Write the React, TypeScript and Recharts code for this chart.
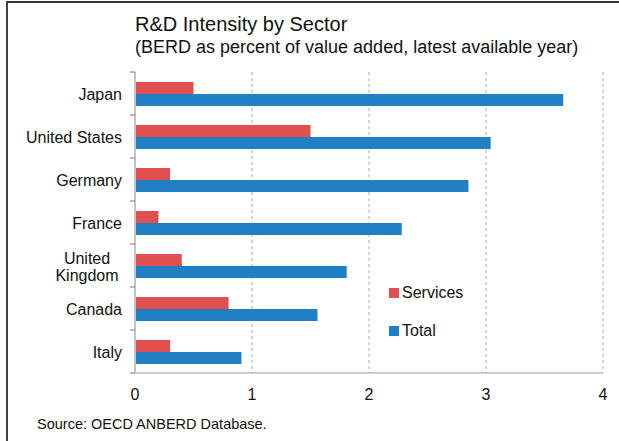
import React from 'react';
import { BarChart, Bar, XAxis, YAxis, CartesianGrid, Legend } from 'recharts';

const categories = ['Japan', 'United States', 'Germany', 'France', 'United Kingdom', 'Canada', 'Italy'];
const servicesValues = [0.5, 1.5, 0.3, 0.2, 0.4, 0.8, 0.3];
const totalValues = [3.66, 3.04, 2.85, 2.28, 1.81, 1.56, 0.91];
const xTicks = [0, 1, 2, 3, 4];

const data = categories.map((name, i) => ({ name, Services: servicesValues[i], Total: totalValues[i] }));

const FONT = '"Liberation Sans", Arial, Helvetica, sans-serif';
const W = 619;
const H = 441;
const PLOT_TOP = 72;
const PLOT_BOTTOM = 373;
const PLOT_LEFT = 135;
const PLOT_RIGHT = 603;
const BAND = (PLOT_BOTTOM - PLOT_TOP) / categories.length;
const RED = '#E05050';
const BLUE = '#2080C3';

const YTick = (props: any) => {
  const { y, payload, index } = props;
  const label: string = payload.value;
  const tx = PLOT_LEFT - 13;
  const lines = label === 'United Kingdom' ? ['United', 'Kingdom'] : [label];
  const isLast = index === categories.length - 1;
  return (
    <g>
      <line x1={PLOT_LEFT - 5} x2={PLOT_LEFT} y1={y - BAND / 2} y2={y - BAND / 2} stroke="#777" strokeWidth={1} />
      {isLast && (
        <line x1={PLOT_LEFT - 5} x2={PLOT_LEFT} y1={y + BAND / 2} y2={y + BAND / 2} stroke="#777" strokeWidth={1} />
      )}
      {lines.length === 1 ? (
        <text x={tx} y={y} dy={6} textAnchor="end" fontSize={16} fill="#111" fontFamily={FONT}>
          {label}
        </text>
      ) : (
        <text x={tx - 35} y={y} textAnchor="middle" fontSize={16} fill="#111" fontFamily={FONT}>
          <tspan x={tx - 35} dy={-2}>{lines[0]}</tspan>
          <tspan x={tx - 35} dy={17.5}>{lines[1]}</tspan>
        </text>
      )}
    </g>
  );
};

const LegendContent = (props: any) => {
  const { payload } = props;
  return (
    <div style={{ fontFamily: FONT }}>
      {(payload || []).map((p: any, i: number) => (
        <div key={i} style={{ display: 'flex', alignItems: 'center', height: 20, marginBottom: i === 0 ? 18 : 0 }}>
          <span style={{ display: 'inline-block', width: 10, height: 10, background: p.color, marginRight: 3 }} />
          <span style={{ fontSize: 16, color: '#111' }}>{p.value}</span>
        </div>
      ))}
    </div>
  );
};

export default function App() {
  return (
    <div style={{ position: 'fixed', left: 0, top: 0, width: W, height: H, overflow: 'hidden', background: '#fff', fontFamily: FONT }}>
      <div style={{ position: 'absolute', left: 6, top: 1, width: 700, height: 600, borderTop: '2px solid #333', borderLeft: '2px solid #444' }} />
      <div style={{ position: 'absolute', left: 135, top: 12, fontSize: 20, color: '#111', whiteSpace: 'nowrap', lineHeight: '24px' }}>
        R&amp;D Intensity by Sector
      </div>
      <div style={{ position: 'absolute', left: 135, top: 37, fontSize: 18, color: '#111', whiteSpace: 'nowrap', lineHeight: '20px' }}>
        (BERD as percent of value added, latest available year)
      </div>
      <div style={{ position: 'absolute', left: 37, top: 416, fontSize: 14.5, color: '#111', whiteSpace: 'nowrap', lineHeight: '16px' }}>
        Source: OECD ANBERD Database.
      </div>
      <div style={{ position: 'absolute', left: 0, top: 0 }}>
        <BarChart
          width={W}
          height={H}
          layout="vertical"
          data={data}
          margin={{ top: PLOT_TOP, right: W - PLOT_RIGHT, bottom: 38, left: 0 }}
          barGap={0}
          barSize={12}
        >
          <CartesianGrid horizontal={false} stroke="#aaa" strokeDasharray="3 3" />
          <XAxis
            type="number"
            domain={[0, 4]}
            ticks={xTicks}
            height={H - PLOT_BOTTOM - 38}
            axisLine={{ stroke: '#999' }}
            tickLine={false}
            tickMargin={10}
            tick={{ fontSize: 16, fill: '#111', fontFamily: FONT }}
          />
          <YAxis
            type="category"
            dataKey="name"
            width={PLOT_LEFT}
            axisLine={{ stroke: '#c4c4c4', strokeWidth: 2 }}
            tickLine={false}
            tick={<YTick />}
            interval={0}
          />
          <Legend
            layout="vertical"
            align="center"
            verticalAlign="middle"
            wrapperStyle={{ left: 389, top: 283, width: 120 }}
            content={<LegendContent />}
          />
          <Bar dataKey="Services" fill={RED} isAnimationActive={false} />
          <Bar dataKey="Total" fill={BLUE} isAnimationActive={false} />
        </BarChart>
      </div>
    </div>
  );
}
